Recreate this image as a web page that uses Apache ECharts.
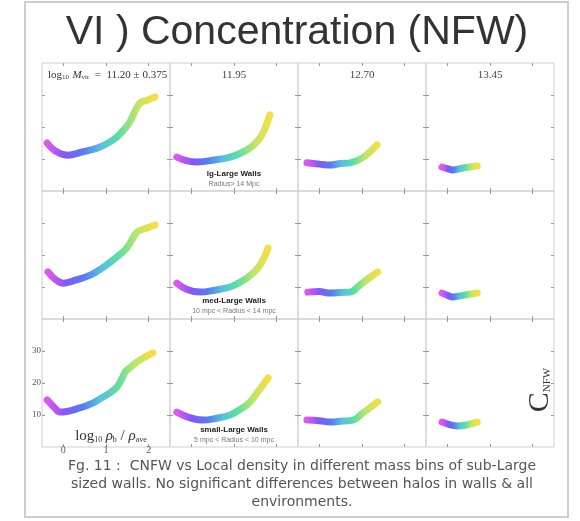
<!DOCTYPE html>
<html>
<head>
<meta charset="utf-8">
<script src="https://cdn.jsdelivr.net/npm/echarts@6/dist/echarts.min.js"></script>
<style>
  html, body { margin: 0; padding: 0; background: #fff; }
  #chart { width: 580px; height: 521px; }
</style>
</head>
<body>
<div id="chart"></div>
<script>
// tick values shared by every panel
var xTicks = [0, 1, 2];
var yTicks = [10, 20, 30];

// mass bins (columns)
var massBins = ['11.20', '11.95', '12.70', '13.45'];

// wall sizes (rows)
var wallNames = ['lg-Large Walls', 'med-Large Walls', 'small-Large Walls'];
var wallRadius = ['Radius> 14 Mpc', '10 mpc < Radius < 14 mpc', '5 mpc < Radius < 10 mpc'];

// C_NFW vs log10 rho_b/rho_ave, one array per panel
var lrg_1120 = [[-0.38, 15.0], [-0.2, 12.6], [0.09, 11.2], [0.45, 12.2], [0.79, 13.4], [1.05, 15.0], [1.26, 16.9], [1.45, 19.6], [1.56, 21.6], [1.7, 25.4], [1.8, 27.5], [1.95, 28.3], [2.15, 29.4]];
var lrg_1195 = [[-0.34, 10.6], [-0.1, 9.4], [0.13, 9.1], [0.55, 9.7], [0.91, 10.6], [1.15, 11.8], [1.37, 13.4], [1.55, 15.6], [1.68, 18.1], [1.84, 23.8]];
var lrg_1270 = [[-0.29, 8.8], [0.0, 8.4], [0.25, 8.1], [0.5, 8.6], [0.72, 8.8], [1.0, 10.3], [1.2, 12.4], [1.35, 14.4]];
var lrg_1345 = [[-0.125, 7.5], [0.0, 7.0], [0.13, 6.6], [0.37, 7.2], [0.55, 7.6], [0.7, 7.8]];

var med_1120 = [[-0.36, 14.7], [-0.2, 12.5], [0.0, 11.2], [0.3, 12.2], [0.63, 13.7], [0.9, 15.8], [1.16, 18.4], [1.35, 20.4], [1.49, 22.2], [1.62, 25.0], [1.73, 27.2], [1.95, 28.4], [2.15, 29.4]];
var med_1195 = [[-0.34, 11.2], [-0.1, 9.2], [0.2, 8.4], [0.55, 9.0], [0.91, 10.0], [1.1, 11.2], [1.3, 12.8], [1.5, 15.0], [1.61, 16.9], [1.72, 19.5], [1.8, 22.2]];
var med_1270 = [[-0.27, 8.4], [0.0, 8.6], [0.25, 8.1], [0.5, 8.3], [0.72, 8.4], [0.95, 10.6], [1.15, 12.6], [1.37, 14.7]];
var med_1345 = [[-0.125, 8.1], [0.0, 7.4], [0.13, 6.9], [0.41, 7.5], [0.55, 7.8], [0.7, 8.1]];

var sml_1120 = [[-0.38, 14.7], [-0.2, 12.2], [-0.08, 10.9], [0.39, 12.2], [0.7, 13.8], [0.93, 15.6], [1.1, 17.0], [1.26, 18.8], [1.36, 21.0], [1.45, 23.4], [1.6, 25.2], [1.73, 26.6], [1.9, 28.0], [2.1, 29.4]];
var sml_1195 = [[-0.34, 10.9], [-0.05, 9.2], [0.27, 8.4], [0.6, 9.0], [0.91, 10.0], [1.1, 11.4], [1.3, 13.1], [1.45, 15.2], [1.54, 16.9], [1.68, 19.4], [1.8, 21.6]];
var sml_1270 = [[-0.29, 8.4], [0.0, 8.2], [0.25, 7.8], [0.55, 8.1], [0.79, 8.4], [1.02, 10.6], [1.2, 12.4], [1.37, 14.1]];
var sml_1345 = [[-0.125, 7.8], [0.05, 7.0], [0.23, 6.6], [0.46, 6.9], [0.6, 7.4], [0.7, 7.8]];

var panels = [
    [lrg_1120, lrg_1195, lrg_1270, lrg_1345],
    [med_1120, med_1195, med_1270, med_1345],
    [sml_1120, sml_1195, sml_1270, sml_1345]
];

var colLeft = [42, 170, 298, 426];
var rowTop = [63, 191, 319];
var cell = 128;
var rainbow = ['#d83ce8', '#6a3cf2', '#3c64e8', '#3cb4d8', '#44d890', '#b4e050', '#f2d828'];

var chart = echarts.init(document.getElementById('chart'));

var grids = [], xAxes = [], yAxes = [], series = [], vmaps = [];
var k = 0;
for (var r = 0; r < 3; r++) {
    for (var c = 0; c < 4; c++) {
        var first = (r === 2 && c === 0);
        grids.push({
            left: colLeft[c], top: rowTop[r], width: cell, height: cell,
            show: true, borderColor: '#cfcfcf', borderWidth: 1, backgroundColor: 'transparent'
        });
        var tickStyle = {show: true, inside: true, length: 3, lineStyle: {color: '#9a9a9a'}};
        var noLine = {show: false, onZero: false};
        xAxes.push({
            gridIndex: k, type: 'value', min: -0.5, max: 2.5, position: 'bottom',
            axisLine: noLine, splitLine: {show: false},
            axisTick: Object.assign({customValues: xTicks}, tickStyle),
            axisLabel: {show: first, customValues: xTicks, fontSize: 10, color: '#555', margin: -2, fontFamily: 'Liberation Serif'}
        });
        xAxes.push({
            gridIndex: k, type: 'value', min: -0.5, max: 2.5, position: 'top',
            axisLine: noLine, splitLine: {show: false},
            axisTick: Object.assign({customValues: xTicks}, tickStyle),
            axisLabel: {show: false}
        });
        yAxes.push({
            gridIndex: k, type: 'value', min: 0, max: 40, position: 'left',
            axisLine: noLine, splitLine: {show: false},
            axisTick: Object.assign({customValues: yTicks}, tickStyle),
            axisLabel: {show: first, customValues: yTicks, fontSize: 9, color: '#555', margin: 1, fontFamily: 'Liberation Serif'}
        });
        yAxes.push({
            gridIndex: k, type: 'value', min: 0, max: 40, position: 'right',
            axisLine: noLine, splitLine: {show: false},
            axisTick: Object.assign({customValues: yTicks}, tickStyle),
            axisLabel: {show: false}
        });
        var d = panels[r][c];
        series.push({
            type: 'line', xAxisIndex: 2 * k, yAxisIndex: 2 * k,
            data: d, smooth: 0.4, showSymbol: false, silent: true,
            lineStyle: {width: 7, opacity: 0.85, cap: 'round', join: 'round'}
        });
        vmaps.push({
            show: false, type: 'continuous', seriesIndex: k, dimension: 0,
            min: d[0][0], max: d[d.length - 1][0],
            inRange: {color: rainbow}
        });
        k++;
    }
}

var graphics = [
    // slide frame
    {type: 'rect', shape: {x: 25, y: 2, width: 543, height: 515}, style: {fill: 'none', stroke: '#cdcdcd', lineWidth: 2}},
    {type: 'text', x: 297, y: 33, style: {text: 'VI ) Concentration (NFW)', font: '41px "Liberation Sans", Arial, sans-serif', fill: '#333', align: 'center', verticalAlign: 'middle'}},
    {type: 'text', x: 48, y: 75, style: {
        text: '{n|log}{s|10} {i|M}{s|vir}{n|  =  11.20 ± 0.375}',
        verticalAlign: 'middle',
        rich: {
            n: {fontFamily: 'Liberation Serif', fontSize: 11, fill: '#333'},
            i: {fontFamily: 'Liberation Serif', fontStyle: 'italic', fontSize: 11, fill: '#333'},
            s: {fontFamily: 'Liberation Serif', fontSize: 7, fill: '#333', padding: [5, 0, 0, 0]}
        }
    }},
    {type: 'text', x: 111, y: 436, style: {
        text: '{n|log}{s|10} {i|ρ}{s|b}{n| / }{i|ρ}{s|ave}',
        align: 'center', verticalAlign: 'middle',
        rich: {
            n: {fontFamily: 'Liberation Serif', fontSize: 15, fill: '#333'},
            i: {fontFamily: 'Liberation Serif', fontStyle: 'italic', fontSize: 15, fill: '#333'},
            s: {fontFamily: 'Liberation Serif', fontSize: 8, fill: '#333', padding: [7, 0, 0, 0]}
        }
    }},
    {type: 'text', x: 540, y: 390, rotation: Math.PI / 2, style: {
        text: '{c|C}{s|NFW}',
        align: 'center', verticalAlign: 'middle',
        rich: {
            c: {fontFamily: 'Liberation Serif', fontSize: 30, fill: '#333'},
            s: {fontFamily: 'Liberation Serif', fontSize: 11, fill: '#333', padding: [14, 0, 0, 0]}
        }
    }},
    {type: 'text', x: 302, y: 484, style: {
        text: 'Fg. 11 :  CNFW vs Local density in different mass bins of sub-Large\nsized walls. No significant differences between halos in walls & all\nenvironments.',
        font: '14px "DejaVu Sans", sans-serif', fill: '#555', align: 'center', verticalAlign: 'middle', lineHeight: 18
    }}
];
for (var c2 = 1; c2 < 4; c2++) {
    graphics.push({type: 'text', x: colLeft[c2] + 64, y: 75, style: {
        text: massBins[c2], font: '11px "Liberation Serif", serif', fill: '#444', align: 'center', verticalAlign: 'middle'
    }});
}
var wallY = [174, 301, 430];
for (var r2 = 0; r2 < 3; r2++) {
    graphics.push({type: 'text', x: 234, y: wallY[r2], style: {
        text: wallNames[r2], font: 'bold 8px "Liberation Sans", sans-serif', fill: '#222', align: 'center', verticalAlign: 'middle'
    }});
    graphics.push({type: 'text', x: 234, y: wallY[r2] + 10, style: {
        text: wallRadius[r2], font: '7px "Liberation Sans", sans-serif', fill: '#777', align: 'center', verticalAlign: 'middle'
    }});
}

chart.setOption({
    animation: false,
    backgroundColor: '#fff',
    grid: grids,
    xAxis: xAxes,
    yAxis: yAxes,
    visualMap: vmaps,
    series: series,
    graphic: graphics
});
</script>
</body>
</html>
